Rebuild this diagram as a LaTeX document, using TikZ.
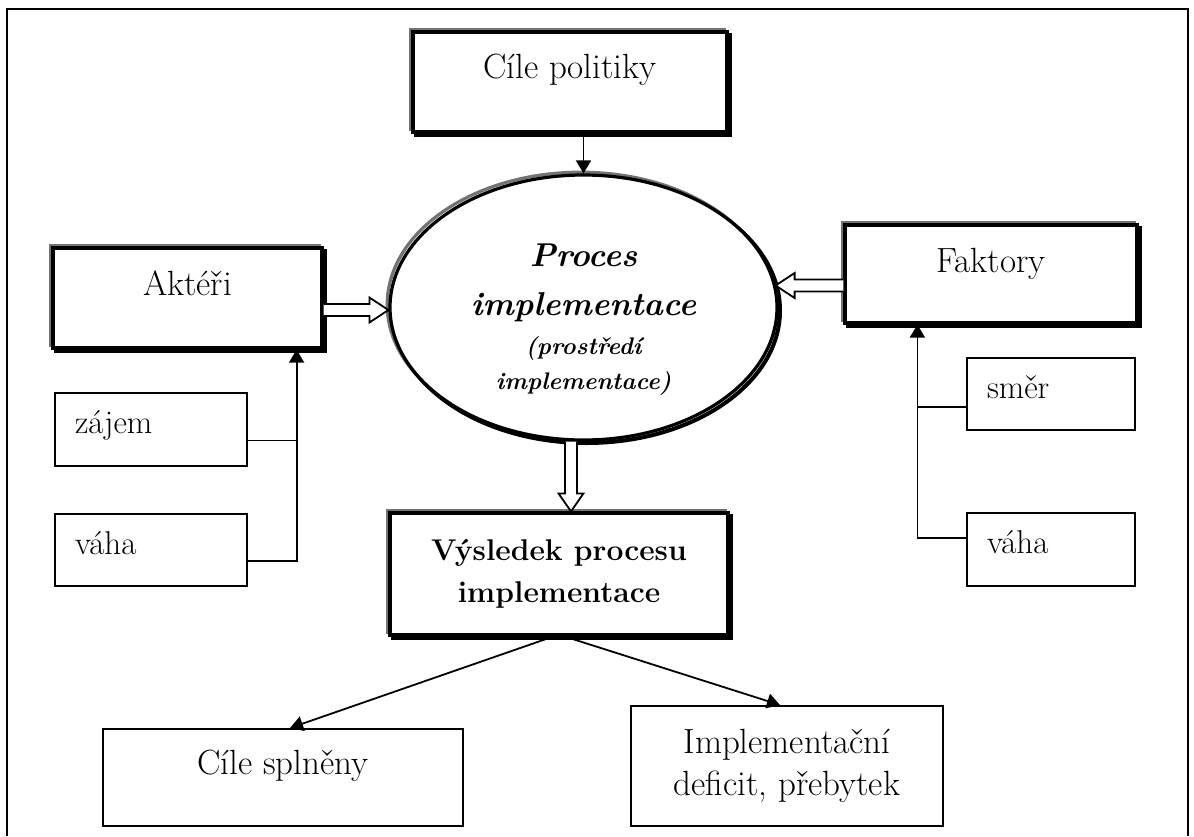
\documentclass[tikz,border=0pt]{standalone}
\usetikzlibrary{positioning,arrows.meta,shapes.geometric,calc}

\begin{document}
\begin{tikzpicture}[
  x=0.5pt, y=-0.5pt,
  txt/.style={font=\fontsize{17.5}{21}\selectfont},
  heavy/.style={draw, fill=white, line width=1.6pt,
    preaction={draw=black!55, line width=1.6pt, transform canvas={shift={(-1.4pt,1.4pt)}}},
    preaction={draw=black, line width=2pt, transform canvas={shift={(1.5pt,-1.5pt)}}}},
  plain/.style={draw, line width=1pt, inner sep=0pt, txt},
  item/.style={draw, line width=1pt, inner xsep=10pt, inner ysep=0pt, align=left,
    text height=12pt, text depth=8pt, font=\fontsize{16.5}{20}\selectfont},
  hollow/.style={draw, fill=white, line width=0.9pt, line join=miter},
  link/.style={line width=0.9pt},
  >={Triangle[length=6.5pt, width=7.5pt]}]
\useasboundingbox (0,0) rectangle (1194,836);
\draw[line width=1.1pt] (7,836) -- (7,9) -- (1188,9) -- (1188,836);

\node[heavy, txt, minimum width=157pt, minimum height=50pt, inner sep=0pt,
  text height=12pt, text depth=16pt] (pol) at (570,82) {Cíle politiky};
\node[heavy, txt, minimum width=134.5pt, minimum height=50pt, inner sep=0pt,
  text height=12pt, text depth=15pt] (akt) at (187.5,298) {Aktéři};
\node[heavy, txt, minimum width=146pt, minimum height=49pt, inner sep=0pt,
  text height=12pt, text depth=14pt] (fak) at (991,274) {Faktory};
\node[heavy, ellipse, minimum width=193.5pt, minimum height=132.5pt, inner sep=0pt,
  align=center, font=\fontsize{16.5}{24.5}\selectfont\bfseries\itshape] (proc) at (583.5,307.5)
  {\rule{0pt}{23pt}Proces\\implementace\\[-5pt]
   {\fontsize{12}{17.5}\selectfont (prostředí}\\[-7pt]
   {\fontsize{12}{17.5}\selectfont implementace)}};
\node[heavy, minimum width=169pt, minimum height=61pt, inner sep=0pt, align=center,
  font=\fontsize{15}{21}\selectfont\bfseries] (res) at (559,574) {Výsledek procesu\\implementace};
\node[plain, minimum width=180pt, minimum height=48.5pt, text height=12pt, text depth=15.5pt]
  (goal) at (283,777.5) {Cíle splněny};
\node[plain, align=center, minimum width=156pt, minimum height=60pt]
  (gap) at (787,766) {Implementační\\deficit, přebytek};

\node[item, text width=76pt, minimum height=36.5pt] (zajem) at (151,429.5) {zájem};
\node[item, text width=76pt, minimum height=36pt] (vahaL) at (151,550) {váha};
\node[item, text width=64pt, minimum height=36pt] (smer) at (1051,394) {směr};
\node[item, text width=64pt, minimum height=36.5pt] (vahaR) at (1051,549.5) {váha};

% goals down into the process
\draw[link, ->] (proc.north |- pol.south) -- (proc.north);

% actors: interest and weight
\coordinate (kL) at ([xshift=-13.5pt]akt.south east);
\coordinate (zj) at ([yshift=-5.5pt]zajem.east);
\coordinate (vl) at ([yshift=-5.5pt]vahaL.east);
\draw[link] (zj) -- (zj -| kL);
\draw[link, ->] (vl) -| (kL);

% factors: direction and weight
\coordinate (kR) at ([xshift=37pt]fak.south west);
\coordinate (sm) at ([yshift=-6.5pt]smer.west);
\coordinate (vr) at ([yshift=5.75pt]vahaR.west);
\draw[link] (sm) -- (sm -| kR);
\draw[link, ->] (vr) -| (kR);

% hollow block arrows
\coordinate (a0) at ([yshift=-6pt]akt.east);
\coordinate (a1) at (a0 -| proc.west);
\draw[hollow] ([yshift=3pt]a0) -- ([shift={(-9.5pt,3pt)}]a1) -- ([shift={(-9.5pt,6.25pt)}]a1)
  -- (a1) -- ([shift={(-9.5pt,-6.25pt)}]a1) -- ([shift={(-9.5pt,-3pt)}]a1) -- ([yshift=-3pt]a0);
\coordinate (b0) at ([yshift=-5.75pt]fak.west);
\path (b0 -| proc.east) ++(-1.5pt,0) coordinate (b1);
\draw[hollow] ([yshift=3pt]b0) -- ([shift={(9.5pt,3pt)}]b1) -- ([shift={(9.5pt,6.25pt)}]b1)
  -- (b1) -- ([shift={(9.5pt,-6.25pt)}]b1) -- ([shift={(9.5pt,-3pt)}]b1) -- ([yshift=-3pt]b0);
\coordinate (c1) at ([xshift=6pt]res.north);
\coordinate (c0) at (c1 |- proc.south);
\draw[hollow] ([xshift=-3pt]c0) -- ([shift={(-3pt,9pt)}]c1) -- ([shift={(-6.25pt,9pt)}]c1)
  -- (c1) -- ([shift={(6.25pt,9pt)}]c1) -- ([shift={(3pt,9pt)}]c1) -- ([xshift=3pt]c0);

% outcomes
\draw[link, ->] ([xshift=-3pt]res.south) -- ([xshift=3.5pt]goal.north);
\draw[link, ->] ([xshift=3pt]res.south) -- ([xshift=-3.5pt]gap.north);
\end{tikzpicture}
\end{document}
